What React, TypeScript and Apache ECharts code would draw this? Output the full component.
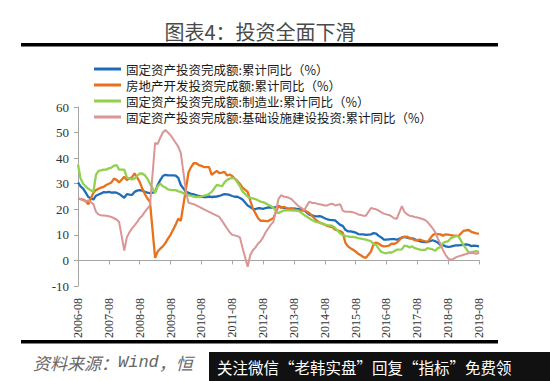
import React, { useEffect, useRef } from "react";
import * as echarts from "echarts";

const chartTitle = "图表4：投资全面下滑";
const sourcePrefix = "资料来源：";
const sourceWind = "Wind";
const sourceSuffix = "，恒";
const watermark = "关注微信“老韩实盘”回复“指标”免费领";

const seriesNames = [
  "固定资产投资完成额:累计同比（%）",
  "房地产开发投资完成额:累计同比（%）",
  "固定资产投资完成额:制造业:累计同比（%）",
  "固定资产投资完成额:基础设施建设投资:累计同比（%）",
];
const seriesColors = ["#1f6db8", "#e8711c", "#92d050", "#d99694"];

const xTickLabels = [
  "2006-08", "2007-08", "2008-08", "2009-08", "2010-08", "2011-08", "2012-08",
  "2013-08", "2014-08", "2015-08", "2016-08", "2017-08", "2018-08", "2019-08",
];
const yTicks = { min: -10, max: 60, step: 10 };

// Monthly categories (cumulative data: no January release), 2006-08 .. 2019-08
const months: string[] = [];
for (let y = 2006; y <= 2019; y++) {
  for (let m = 1; m <= 12; m++) {
    if (m === 1) continue;
    if (y === 2006 && m < 8) continue;
    if (y === 2019 && m > 8) continue;
    months.push(`${y}-${String(m).padStart(2, "0")}`);
  }
}

const faiTotal = [
  30.5, 29.0, 28.1, 26.5, 24.8,
  23.8, 25.3, 25.8, 26.2, 26.7, 26.6, 26.8, 26.5, 26.6, 26.5, 26.0,
  24.5, 25.9, 25.7, 25.6, 26.8, 27.3, 27.5, 27.3, 26.8, 26.5, 26.3,
  26.7, 29.5, 31.4, 33.0, 33.5, 33.3, 33.3, 33.3, 33.2, 32.3, 29.5,
  26.8, 26.4, 26.0, 25.9, 25.5, 25.2, 25.0, 24.8, 24.8, 25.0, 24.8,
  25.0, 25.2, 25.6, 25.9, 25.8, 25.6, 25.2, 24.9, 24.9, 24.4, 23.8,
  21.5, 20.9, 20.2, 20.1, 20.4, 20.4, 20.2, 20.5, 20.7, 20.7, 20.6,
  21.2, 20.9, 20.6, 20.4, 20.1, 20.1, 20.3, 20.2, 20.1, 19.9, 19.6,
  17.9, 17.6, 17.3, 17.2, 17.3, 17.0, 16.5, 16.1, 15.9, 15.8, 15.7,
  13.9, 13.5, 12.0, 11.4, 11.4, 11.2, 10.9, 10.3, 10.2, 10.2, 10.0,
  10.2, 10.7, 10.5, 9.6, 9.0, 8.1, 8.1, 8.2, 8.3, 8.3, 8.1,
  8.9, 9.2, 8.9, 8.6, 8.6, 8.3, 7.8, 7.5, 7.3, 7.2, 7.2,
  7.9, 7.5, 7.0, 6.1, 6.0, 5.5, 5.3, 5.4, 5.7, 5.9, 5.9,
  6.1, 6.3, 6.1, 5.6, 5.8, 5.7, 5.5,
];

const realEstate = [
  24.2, 24.0, 23.8, 23.2, 22.0,
  26.5, 27.5, 28.0, 28.5, 28.8, 29.5, 30.0, 30.5, 32.0, 31.5, 30.5,
  32.7, 31.4, 32.0, 32.5, 34.0, 32.5, 30.7, 28.1, 26.0, 24.2, 22.9,
  1.0, 3.5, 4.6, 5.5, 6.8, 8.5, 10.0, 12.0, 14.0, 16.3, 15.5,
  28.0, 34.5, 36.5, 38.0, 38.0, 37.3, 37.0, 36.5, 36.5, 36.5, 33.5,
  35.0, 34.1, 34.3, 34.6, 33.2, 33.6, 33.0, 32.0, 31.1, 29.9, 28.5,
  26.8, 23.5, 20.3, 18.5, 16.6, 15.5, 15.6, 15.4, 15.4, 16.0, 16.5,
  21.5, 20.5, 21.0, 20.6, 20.3, 20.5, 20.0, 19.7, 19.5, 19.5, 19.6,
  18.5, 17.5, 16.4, 15.5, 14.8, 14.4, 14.0, 13.5, 13.2, 13.0, 12.0,
  11.5, 10.8, 7.0, 5.5, 4.8, 4.2, 3.5, 2.6, 2.0, 1.3, 1.0,
  3.5, 6.5, 7.0, 6.5, 5.8, 5.5, 5.6, 5.8, 6.6, 6.5, 6.9,
  9.0, 9.2, 9.3, 8.8, 8.5, 7.9, 7.9, 8.1, 7.8, 7.5, 7.2,
  9.9, 10.4, 10.3, 10.2, 9.7, 10.2, 10.1, 9.9, 9.7, 9.7, 9.5,
  11.6, 11.8, 11.9, 11.2, 10.9, 10.6, 10.5,
];

const manufacturing = [
  37.5, 32.0, 30.0, 29.0, 28.0,
  26.8, 33.5, 35.0, 35.2, 35.5, 35.5, 36.0, 36.3, 37.0, 37.3, 35.5,
  35.5, 32.5, 32.0, 31.7, 32.0, 33.0, 34.0, 34.0, 33.3, 32.0, 30.0,
  26.4, 29.0, 30.0, 29.0, 28.5, 27.8, 27.6, 27.5, 27.5, 27.0, 26.8,
  25.8, 25.5, 25.2, 25.0, 24.8, 24.8, 25.0, 25.3, 25.5, 26.0, 26.8,
  29.5, 29.3, 29.0, 30.5, 31.5, 32.0, 32.3, 32.0, 30.5, 29.0, 27.0,
  25.0, 24.5, 24.3, 24.0, 23.5, 23.0, 22.8, 22.3, 21.8, 21.3, 20.5,
  18.5, 19.0, 19.5, 19.6, 19.6, 19.6, 19.5, 19.5, 19.3, 18.5, 17.8,
  16.5, 15.8, 15.3, 15.0, 14.8, 14.5, 14.0, 13.8, 13.7, 13.5, 12.8,
  10.5, 10.0, 9.5, 9.4, 9.2, 9.2, 9.0, 8.7, 8.5, 8.3, 8.1,
  7.5, 6.4, 6.0, 4.6, 3.3, 3.0, 2.8, 3.1, 3.1, 3.6, 4.2,
  4.3, 5.8, 5.6, 5.1, 5.5, 4.8, 4.5, 4.2, 4.1, 4.1, 4.8,
  4.3, 3.8, 4.8, 5.2, 6.8, 7.3, 7.5, 8.7, 9.1, 9.5, 9.5,
  5.9, 4.6, 3.0, 3.2, 3.4, 3.6, 3.3,
];

const infrastructure = [
  24.2, 24.0, 23.5, 23.0, 23.5,
  22.0, 19.0, 18.0, 17.6, 17.6, 17.5, 17.3, 17.0, 16.5, 16.0, 15.0,
  3.9, 9.0, 11.0, 12.5, 13.7, 15.0, 16.5, 17.5, 19.0, 20.3, 21.5,
  46.0, 45.5, 48.0, 50.0, 51.0, 50.0, 49.0, 47.5, 46.0, 44.5, 42.0,
  27.0, 22.5, 22.3, 22.0, 21.5, 21.0, 20.5, 20.0, 19.5, 19.0, 18.5,
  17.5, 17.0, 15.5, 14.0, 12.5, 11.0, 10.0, 9.8, 9.5, 9.0, 5.0,
  -2.5, 2.0, 4.0, 5.0, 6.5, 7.5, 9.0, 11.0, 12.5, 14.0, 15.0,
  24.0, 25.5, 25.0, 24.8, 24.5, 24.0, 23.0, 22.0, 21.0, 20.5, 19.6,
  23.0, 22.5, 22.5, 22.2, 22.0, 21.8, 21.5, 21.5, 22.0, 22.2, 21.5,
  22.0, 19.5, 19.0, 19.0, 19.0, 18.8, 18.5, 18.0, 17.8, 17.5, 17.5,
  20.5, 20.2, 20.0, 19.5, 18.8, 18.3, 18.0, 17.8, 17.2, 16.5, 16.3,
  21.2, 19.0, 18.0, 17.5, 17.3, 17.0, 16.8, 16.5, 16.2, 15.8, 15.0,
  12.5, 11.0, 8.5, 6.5, 4.0, 2.2, 0.8, 0.2, 0.6, 1.2, 1.6,
  2.2, 2.5, 2.8, 3.0, 2.8, 2.6, 3.0,
];

const seriesValues = [faiTotal, realEstate, manufacturing, infrastructure];

// month offset from 2006-08 (the first tick)
function monthIndex(s: string): number {
  const [y, m] = s.split("-").map(Number);
  return (y - 2006) * 12 + (m - 8);
}

export default function App() {
  const ref = useRef<HTMLDivElement>(null);

  useEffect(() => {
    if (!ref.current) return;
    const chart = echarts.init(ref.current, null, { renderer: "svg" });
    const lastIdx = (xTickLabels.length - 1) * 12;

    const option: any = {
      animation: false,
      backgroundColor: "#ffffff",
      grid: { left: 78, top: 107, width: 401, height: 179, containLabel: false },
      legend: {
        orient: "vertical",
        left: 89,
        top: 56,
        itemWidth: 27,
        itemHeight: 3,
        itemGap: 0,
        icon: "rect",
        selectedMode: false,
        data: seriesNames,
        textStyle: {
          fontFamily: "Noto Sans CJK SC",
          fontSize: 12.5,
          lineHeight: 16,
          color: "#1a1a1a",
        },
      },
      xAxis: {
        type: "value",
        min: 0,
        max: lastIdx,
        interval: 12,
        axisLine: { onZero: true, lineStyle: { color: "#a6a6a6", width: 1 } },
        axisTick: { show: true, length: 4, lineStyle: { color: "#a6a6a6" } },
        splitLine: { show: false },
        axisLabel: {
          rotate: 90,
          margin: 12,
          showMinLabel: true,
          showMaxLabel: true,
          fontFamily: "Liberation Serif",
          fontSize: 12,
          color: "#333",
          formatter: (v: number) => xTickLabels[Math.round(v / 12)] ?? "",
        },
      },
      yAxis: {
        type: "value",
        min: yTicks.min,
        max: yTicks.max,
        interval: yTicks.step,
        axisLine: { show: true, lineStyle: { color: "#a6a6a6", width: 1 } },
        axisTick: { show: true, length: 4, lineStyle: { color: "#a6a6a6" } },
        splitLine: { show: false },
        axisLabel: {
          margin: 9,
          fontFamily: "Liberation Serif",
          fontSize: 13,
          color: "#333",
        },
      },
      series: seriesNames.map((name, k) => ({
        name,
        type: "line",
        showSymbol: false,
        symbol: "none",
        color: seriesColors[k],
        lineStyle: { color: seriesColors[k], width: k === 3 ? 2 : 2.3 },
        data: months.map((mm, i) => [monthIndex(mm), seriesValues[k][i]]),
      })),
      graphic: [
        {
          type: "text",
          x: 260,
          y: 31,
          style: {
            text: chartTitle,
            fontFamily: "Noto Sans CJK SC",
            fontSize: 20,
            fill: "#4a4a4a",
            textAlign: "center",
            textVerticalAlign: "middle",
          },
        },
        { type: "rect", shape: { x: 21, y: 43, width: 477, height: 3.5 }, style: { fill: "#000" } },
        { type: "rect", shape: { x: 21, y: 340, width: 477, height: 3.5 }, style: { fill: "#000" } },
        {
          type: "text",
          x: 33,
          y: 362,
          style: {
            text: `{a|${sourcePrefix}}{b|${sourceWind}}{a|${sourceSuffix}}`,
            textVerticalAlign: "middle",
            rich: {
              a: { fontFamily: "Noto Sans CJK SC", fontSize: 17, fontStyle: "italic", fill: "#666" },
              b: { fontFamily: "Liberation Mono", fontSize: 17, fontStyle: "italic", fill: "#666" },
            },
          },
        },
        { type: "rect", shape: { x: 209, y: 352, width: 341, height: 29 }, style: { fill: "#111" } },
        {
          type: "text",
          x: 217,
          y: 367,
          style: {
            text: watermark,
            fontFamily: "Noto Sans CJK SC",
            fontSize: 15.5,
            fill: "#ffffff",
            textVerticalAlign: "middle",
          },
        },
      ],
    };

    chart.setOption(option);
    return () => chart.dispose();
  }, []);

  return (
    <div
      ref={ref}
      style={{ position: "absolute", left: 0, top: 0, width: 550, height: 381, background: "#fff" }}
    />
  );
}
